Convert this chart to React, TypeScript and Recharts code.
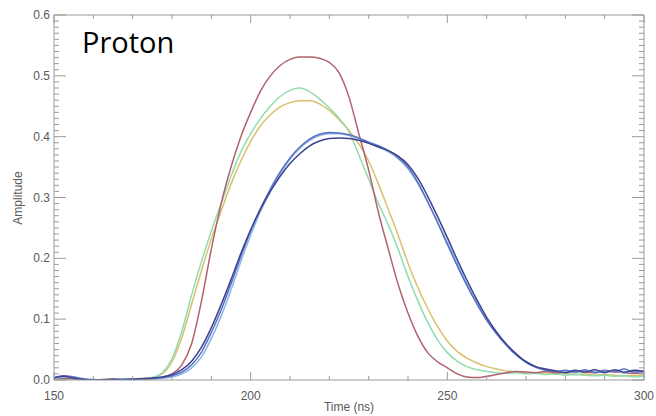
import React from "react";
import { LineChart, Line, XAxis, YAxis } from "recharts";

const times = [150, 152.5, 155, 157.5, 160, 162.5, 165, 167.5, 170, 172.5, 175, 177.5, 180, 182.5, 185, 187.5, 190, 192.5, 195, 197.5, 200, 202.5, 205, 207.5, 210, 212.5, 215, 217.5, 220, 222.5, 225, 227.5, 230, 232.5, 235, 237.5, 240, 242.5, 245, 247.5, 250, 252.5, 255, 257.5, 260, 262.5, 265, 267.5, 270, 272.5, 275, 277.5, 280, 282.5, 285, 287.5, 290, 292.5, 295, 297.5, 300];

const red = [0.002, 0.003, 0.002, 0.001, 0.0, 0.001, 0.002, 0.001, 0.001, 0.002, 0.002, 0.004, 0.01, 0.025, 0.06, 0.13, 0.215, 0.29, 0.35, 0.4, 0.44, 0.475, 0.5, 0.517, 0.527, 0.531, 0.531, 0.529, 0.522, 0.505, 0.465, 0.405, 0.345, 0.275, 0.215, 0.157, 0.11, 0.072, 0.045, 0.03, 0.02, 0.01, 0.005, 0.004, 0.006, 0.009, 0.012, 0.014, 0.013, 0.012, 0.014, 0.012, 0.013, 0.015, 0.013, 0.012, 0.014, 0.013, 0.012, 0.011, 0.012];

const green = [0.001, 0.002, 0.001, 0.0, 0.001, 0.0, 0.001, 0.002, 0.001, 0.002, 0.004, 0.012, 0.035, 0.08, 0.14, 0.195, 0.245, 0.29, 0.335, 0.375, 0.405, 0.43, 0.45, 0.466, 0.476, 0.48, 0.474, 0.462, 0.447, 0.43, 0.408, 0.37, 0.33, 0.29, 0.255, 0.215, 0.17, 0.13, 0.095, 0.066, 0.045, 0.031, 0.022, 0.017, 0.014, 0.012, 0.011, 0.012, 0.01, 0.011, 0.009, 0.01, 0.008, 0.009, 0.008, 0.007, 0.008, 0.006, 0.007, 0.005, 0.006];

const yellow = [0.002, 0.001, 0.002, 0.001, 0.0, 0.001, 0.001, 0.002, 0.002, 0.003, 0.004, 0.01, 0.03, 0.07, 0.125, 0.18, 0.232, 0.278, 0.322, 0.36, 0.392, 0.418, 0.436, 0.449, 0.456, 0.459, 0.459, 0.454, 0.443, 0.428, 0.41, 0.388, 0.36, 0.322, 0.28, 0.238, 0.192, 0.152, 0.118, 0.088, 0.064, 0.047, 0.036, 0.028, 0.022, 0.018, 0.015, 0.013, 0.012, 0.011, 0.012, 0.01, 0.011, 0.009, 0.01, 0.008, 0.009, 0.008, 0.007, 0.008, 0.007];

const blue = [0.003, 0.007, 0.005, 0.002, 0.0, 0.0, 0.001, 0.001, 0.002, 0.002, 0.003, 0.004, 0.007, 0.013, 0.025, 0.046, 0.078, 0.115, 0.158, 0.203, 0.245, 0.282, 0.314, 0.342, 0.365, 0.383, 0.396, 0.404, 0.407, 0.406, 0.403, 0.398, 0.391, 0.385, 0.377, 0.366, 0.35, 0.325, 0.293, 0.259, 0.223, 0.188, 0.155, 0.125, 0.098, 0.076, 0.057, 0.041, 0.029, 0.021, 0.016, 0.014, 0.016, 0.013, 0.017, 0.012, 0.016, 0.014, 0.018, 0.013, 0.015];

const navy = [0.004, 0.006, 0.003, 0.001, 0.0, 0.0, 0.001, 0.0, 0.001, 0.002, 0.003, 0.005, 0.009, 0.017, 0.031, 0.054, 0.086, 0.124, 0.165, 0.208, 0.247, 0.281, 0.31, 0.335, 0.356, 0.372, 0.385, 0.393, 0.397, 0.398, 0.397, 0.394, 0.389, 0.383, 0.377, 0.368, 0.354, 0.332, 0.302, 0.269, 0.234, 0.198, 0.164, 0.132, 0.103, 0.079, 0.059, 0.043, 0.03, 0.022, 0.018, 0.015, 0.012, 0.016, 0.013, 0.017, 0.012, 0.017, 0.013, 0.016, 0.014];

const lightBlue = [0.002, 0.005, 0.004, 0.002, 0.001, 0.0, 0.001, 0.002, 0.001, 0.002, 0.002, 0.003, 0.005, 0.01, 0.02, 0.038, 0.068, 0.105, 0.148, 0.195, 0.238, 0.277, 0.31, 0.339, 0.363, 0.381, 0.394, 0.402, 0.405, 0.405, 0.402, 0.397, 0.39, 0.383, 0.375, 0.364, 0.347, 0.323, 0.293, 0.26, 0.226, 0.192, 0.158, 0.127, 0.1, 0.077, 0.058, 0.042, 0.03, 0.022, 0.017, 0.015, 0.014, 0.012, 0.015, 0.014, 0.013, 0.015, 0.012, 0.014, 0.013];

const xMajorTicks = [150, 200, 250, 300];
const xMinorTicks = [150, 160, 170, 180, 190, 200, 210, 220, 230, 240, 250, 260, 270, 280, 290, 300];
const yMajorTicks = [0, 0.1, 0.2, 0.3, 0.4, 0.5, 0.6];
const yTickLabels = ["0.0", "0.1", "0.2", "0.3", "0.4", "0.5", "0.6"];
const yMinorTicks: number[] = [];
for (let i = 0; i <= 60; i++) yMinorTicks.push(i / 100);

const data = times.map((t, i) => ({
  t,
  red: red[i],
  green: green[i],
  yellow: yellow[i],
  blue: blue[i],
  navy: navy[i],
  lightBlue: lightBlue[i],
}));

const FRAME = "#9a9a9a";
const TEXT = "#5a5a5a";
const FONT = "'Liberation Sans', Arial, sans-serif";

const isMajorX = (v: number) => xMajorTicks.includes(v);
const isMajorY = (v: number) => yMajorTicks.some((m) => Math.abs(m - v) < 1e-6);

const BottomTick = (props: any) => {
  const { x, y, payload } = props;
  const v = payload.value;
  const major = isMajorX(v);
  return (
    <g>
      <line x1={x} x2={x} y1={y} y2={y - (major ? 8 : 4)} stroke={FRAME} strokeWidth={1} />
      {major && (
        <text x={x} y={y + 20} textAnchor="middle" fill={TEXT} fontSize={12} fontFamily={FONT}>
          {v}
        </text>
      )}
    </g>
  );
};

const TopTick = (props: any) => {
  const { x, y, payload } = props;
  const major = isMajorX(payload.value);
  return <line x1={x} x2={x} y1={y} y2={y + (major ? 8 : 4)} stroke={FRAME} strokeWidth={1} />;
};

const LeftTick = (props: any) => {
  const { x, y, payload } = props;
  const v = payload.value;
  const major = isMajorY(v);
  const idx = yMajorTicks.findIndex((m) => Math.abs(m - v) < 1e-6);
  return (
    <g>
      <line x1={x} x2={x + (major ? 12 : 5)} y1={y} y2={y} stroke={FRAME} strokeWidth={1} />
      {major && (
        <text x={x - 4} y={y + 4} textAnchor="end" fill={TEXT} fontSize={12} fontFamily={FONT}>
          {yTickLabels[idx]}
        </text>
      )}
    </g>
  );
};

const RightTick = (props: any) => {
  const { x, y, payload } = props;
  const major = isMajorY(payload.value);
  return <line x1={x} x2={x - (major ? 12 : 5)} y1={y} y2={y} stroke={FRAME} strokeWidth={1} />;
};

const series = [
  { key: "yellow", color: "#dcbf6c" },
  { key: "green", color: "#90dcae" },
  { key: "red", color: "#b0636f" },
  { key: "lightBlue", color: "#8ab8e6" },
  { key: "blue", color: "#5a70c4" },
  { key: "navy", color: "#3d4290" },
];

export default function App() {
  return (
    <div style={{ position: "absolute", left: 0, top: 0, width: 656, height: 416, background: "#fff" }}>
      <LineChart width={656} height={416} data={data} margin={{ top: 5, right: 2, bottom: 6, left: 14 }}>
        <XAxis
          xAxisId="b"
          dataKey="t"
          type="number"
          domain={[150, 300]}
          ticks={xMinorTicks}
          interval={0}
          height={30}
          tickSize={0}
          tickMargin={0}
          tickLine={false}
          axisLine={{ stroke: FRAME }}
          tick={<BottomTick />}
        />
        <XAxis
          xAxisId="t"
          orientation="top"
          dataKey="t"
          type="number"
          domain={[150, 300]}
          ticks={xMinorTicks}
          interval={0}
          height={10}
          tickSize={0}
          tickMargin={0}
          tickLine={false}
          axisLine={{ stroke: FRAME }}
          tick={<TopTick />}
        />
        <YAxis
          yAxisId="l"
          type="number"
          domain={[0, 0.6]}
          ticks={yMinorTicks}
          interval={0}
          width={40}
          tickSize={0}
          tickMargin={0}
          tickLine={false}
          axisLine={{ stroke: FRAME }}
          tick={<LeftTick />}
          allowDataOverflow
        />
        <YAxis
          yAxisId="r"
          orientation="right"
          type="number"
          domain={[0, 0.6]}
          ticks={yMinorTicks}
          interval={0}
          width={10}
          tickSize={0}
          tickMargin={0}
          tickLine={false}
          axisLine={{ stroke: FRAME }}
          tick={<RightTick />}
          allowDataOverflow
        />
        {series.map((s) => (
          <Line
            key={s.key}
            xAxisId="b"
            yAxisId="l"
            dataKey={s.key}
            type="monotone"
            stroke={s.color}
            strokeWidth={1.5}
            dot={false}
            isAnimationActive={false}
          />
        ))}
      </LineChart>
      <svg width={656} height={416} style={{ position: "absolute", left: 0, top: 0, pointerEvents: "none" }}>
        <text x={82} y={53} fontSize={29} fontFamily="'Open Sans', sans-serif" fill="#000">
          Proton
        </text>
        <text x={349} y={411} textAnchor="middle" fontSize={12} fontFamily={FONT} fill={TEXT}>
          Time (ns)
        </text>
        <text
          x={22}
          y={198}
          textAnchor="middle"
          fontSize={12}
          fontFamily={FONT}
          fill={TEXT}
          transform="rotate(-90 22 198)"
        >
          Amplitude
        </text>
      </svg>
    </div>
  );
}
